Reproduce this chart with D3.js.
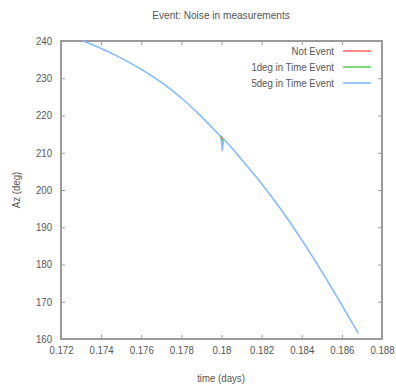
<!DOCTYPE html>
<html>
<head>
<meta charset="utf-8">
<script src="https://cdn.jsdelivr.net/npm/d3@7"></script>
<style>
  html, body { margin: 0; padding: 0; background: #fff; }
  svg { display: block; }
  text { font-family: "Liberation Sans", Arial, sans-serif; fill: #555; }
</style>
</head>
<body>
<svg id="chart" width="396" height="386"></svg>
<script>
// Azimuth over time for three event hypotheses
const titleText = "Event: Noise in measurements";
const xLabel = "time (days)";
const yLabel = "Az (deg)";

const xTicks = [0.172, 0.174, 0.176, 0.178, 0.18, 0.182, 0.184, 0.186, 0.188];
const yTicks = [160, 170, 180, 190, 200, 210, 220, 230, 240];

const seriesNames = ["Not Event", "1deg in Time Event", "5deg in Time Event"];
const seriesColors = ["#ff6b6b", "#5fcf5f", "#82bcff"];

// time (days)
const notEventT = [0.17999, 0.18003];
const notEventAz = [214.2, 213.9];

const oneDegT = [0.17996, 0.18001, 0.18005];
const oneDegAz = [214.4, 213.6, 213.3];

const fiveDegT = [0.1731, 0.1740, 0.1750, 0.1760, 0.1770, 0.1780, 0.1790, 0.17998, 0.18004, 0.18010, 0.1810, 0.1820, 0.1830, 0.1840, 0.1850, 0.1860, 0.1868];
const fiveDegAz = [240.0, 238.0, 235.4, 232.4, 228.9, 224.7, 219.7, 214.3, 210.6, 213.7, 208.2, 201.7, 194.5, 186.6, 178.1, 169.1, 161.7];

const series = [
  { t: notEventT, az: notEventAz },
  { t: oneDegT, az: oneDegAz },
  { t: fiveDegT, az: fiveDegAz }
];

const svg = d3.select("#chart");
const margin = { left: 61, right: 14, top: 41, bottom: 47 };
const W = 396, H = 386;
const fontSize = "10.5px";
const narrow = "scale(0.92,1)";

const x = d3.scaleLinear().domain([0.172, 0.188]).range([margin.left, W - margin.right]);
const y = d3.scaleLinear().domain([160, 240]).range([H - margin.bottom, margin.top]);

const tickLen = 4;
const axisColor = "#9a9a9a";

// tick labels and inward ticks (mirrored on all sides)
const xAxis = d3.axisBottom(x).tickValues(xTicks).tickSize(-tickLen).tickPadding(8).tickFormat(d3.format("~g"));
const xAxisTop = d3.axisTop(x).tickValues(xTicks).tickSize(-tickLen).tickFormat("");
const yAxis = d3.axisLeft(y).tickValues(yTicks).tickSize(-tickLen).tickPadding(9).tickFormat(d3.format("d"));
const yAxisRight = d3.axisRight(y).tickValues(yTicks).tickSize(-tickLen).tickFormat("");

function style(g) {
  g.select(".domain").remove();
  g.selectAll(".tick line").attr("stroke", axisColor).attr("stroke-width", 1);
  g.selectAll(".tick text").attr("fill", "#555").style("font-size", fontSize)
    .style("font-family", '"Liberation Sans", Arial, sans-serif');
}

const gx = svg.append("g").attr("transform", `translate(0,${y(160)})`).call(xAxis).call(style);
gx.selectAll(".tick text").attr("transform", narrow);
svg.append("g").attr("transform", `translate(0,${y(240)})`).call(xAxisTop).call(style);
const gy = svg.append("g").attr("transform", `translate(${x(0.172)},0)`).call(yAxis).call(style);
gy.selectAll(".tick text").attr("x", -9 / 0.92).attr("transform", narrow);
svg.append("g").attr("transform", `translate(${x(0.188)},0)`).call(yAxisRight).call(style);

// plot frame
svg.append("rect")
  .attr("x", x(0.172)).attr("y", y(240))
  .attr("width", x(0.188) - x(0.172)).attr("height", y(160) - y(240))
  .attr("fill", "none").attr("stroke", axisColor).attr("stroke-width", 2);

// data lines: the track is drawn smooth, and any single-sample glitch
// (a point lower than both neighbours) is drawn as a straight spike on top
const smooth = d3.line().x(d => x(d[0])).y(d => y(d[1])).curve(d3.curveMonotoneX);
const straight = d3.line().x(d => x(d[0])).y(d => y(d[1]));

function drawTrack(pts, color, isSmooth) {
  const path = (data, gen) => svg.append("path")
    .datum(data)
    .attr("d", gen)
    .attr("fill", "none")
    .attr("stroke", color)
    .attr("stroke-width", 1.6)
    .attr("stroke-linejoin", "round")
    .attr("stroke-linecap", "round");
  if (!isSmooth) { path(pts, straight); return; }
  const glitch = k => k > 0 && k < pts.length - 1 && pts[k][1] < pts[k + 1][1];
  path(pts.filter((p, k) => !glitch(k)), smooth);
  pts.forEach((p, k) => { if (glitch(k)) path([pts[k - 1], p, pts[k + 1]], straight); });
}

[2, 1, 0].forEach(i => {
  const s = series[i];
  drawTrack(s.t.map((t, k) => [t, s.az[k]]), seriesColors[i], i === 2);
});

// legend
const legendY = [51, 67, 83];
seriesNames.forEach((name, i) => {
  svg.append("text")
    .attr("transform", `translate(334,${legendY[i]}) ${narrow}`)
    .attr("dy", "0.35em")
    .attr("text-anchor", "end")
    .style("font-size", fontSize)
    .text(name);
  svg.append("line")
    .attr("x1", 343).attr("x2", 371)
    .attr("y1", legendY[i]).attr("y2", legendY[i])
    .attr("stroke", seriesColors[i]).attr("stroke-width", 1.6);
});

// titles
svg.append("text")
  .attr("transform", `translate(221,19) ${narrow}`)
  .attr("text-anchor", "middle")
  .style("font-size", "11px")
  .text(titleText);

svg.append("text")
  .attr("transform", `translate(221,382) ${narrow}`)
  .attr("text-anchor", "middle")
  .style("font-size", fontSize)
  .text(xLabel);

svg.append("text")
  .attr("transform", `translate(20,190) rotate(-90) ${narrow}`)
  .attr("text-anchor", "middle")
  .style("font-size", fontSize)
  .text(yLabel);
</script>
</body>
</html>
